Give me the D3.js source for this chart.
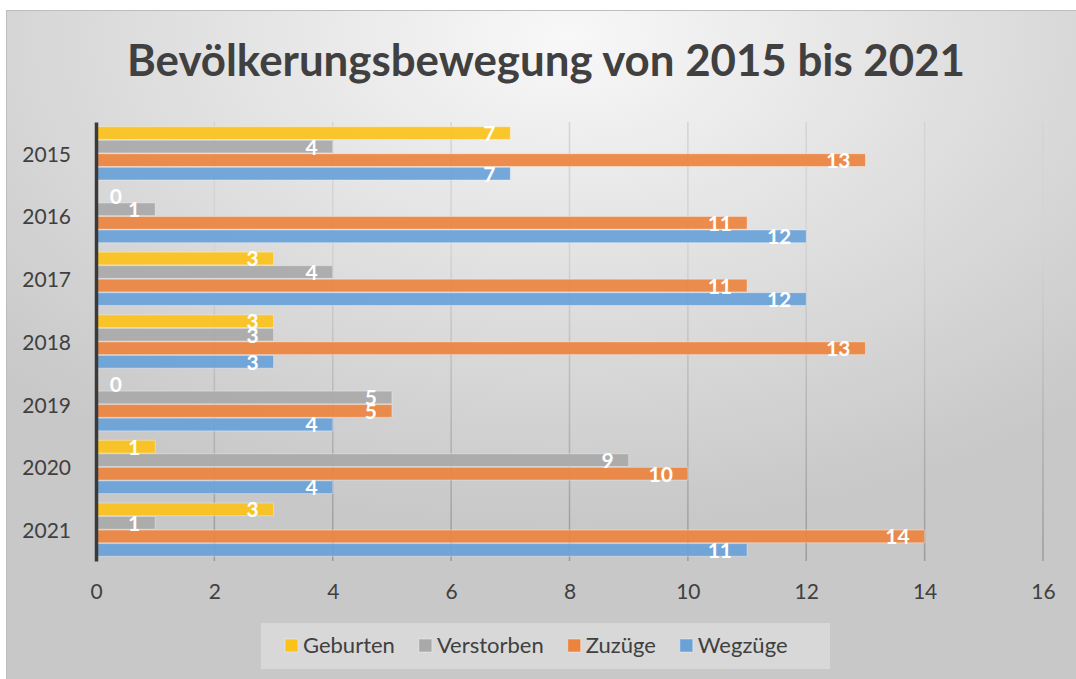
<!DOCTYPE html>
<html>
<head>
<meta charset="utf-8">
<script src="https://cdn.jsdelivr.net/npm/d3@7"></script>
<style>
  html, body { margin: 0; padding: 0; background: #fff; }
  svg { display: block; font-family: Lato, "Open Sans", sans-serif; }
</style>
</head>
<body>
<svg id="chart" width="1076" height="679"></svg>
<script>
const years = ["2015", "2016", "2017", "2018", "2019", "2020", "2021"];
const seriesNames = ["Geburten", "Verstorben", "Zuzüge", "Wegzüge"];
const geburten = [7, 0, 3, 3, 0, 1, 3];
const verstorben = [4, 1, 4, 3, 5, 9, 1];
const zuzuege = [13, 11, 11, 13, 5, 10, 14];
const wegzuege = [7, 12, 12, 3, 4, 4, 11];
const xTicks = [0, 2, 4, 6, 8, 10, 12, 14, 16];
const colors = ["#FBC21A", "#A9A9A9", "#EC8440", "#6AA2D8"];

const values = [geburten, verstorben, zuzuege, wegzuege];
const rows = years.map((y, i) => ({
    year: y,
    items: seriesNames.map((s, j) => ({series: s, value: values[j][i]}))
}));

const svg = d3.select("#chart");
const margin = {top: 122, right: 33, bottom: 118, left: 96};
const width = 1076 - margin.left - margin.right;
const height = 679 - margin.top - margin.bottom;

// background
const defs = svg.append("defs");
const bg = defs.append("radialGradient")
    .attr("id", "bg")
    .attr("cx", "52%").attr("cy", "4%").attr("r", "72%");
bg.append("stop").attr("offset", "0%").attr("stop-color", "#f8f8f8");
bg.append("stop").attr("offset", "100%").attr("stop-color", "#c8c8c8");

const grid = defs.append("linearGradient")
    .attr("id", "gridGrad")
    .attr("gradientUnits", "userSpaceOnUse")
    .attr("x1", 0).attr("y1", margin.top).attr("x2", 0).attr("y2", margin.top + height);
grid.append("stop").attr("offset", "0%").attr("stop-color", "#d4d4d4");
grid.append("stop").attr("offset", "100%").attr("stop-color", "#858585");

svg.append("rect")
    .attr("x", 6.5).attr("y", 10.5)
    .attr("width", 1076).attr("height", 679)
    .attr("fill", "url(#bg)")
    .attr("stroke", "#bdbdbd");

// title
svg.append("text")
    .attr("x", 546).attr("y", 76)
    .attr("text-anchor", "middle")
    .attr("font-size", 44)
    .attr("font-weight", "bold")
    .attr("fill", "#404040")
    .attr("textLength", 838)
    .attr("lengthAdjust", "spacingAndGlyphs")
    .text("Bevölkerungsbewegung von 2015 bis 2021");

const x = d3.scaleLinear().domain([0, 16]).range([0, width]);
const y0 = d3.scaleBand().domain(years).range([0, height])
    .paddingInner(0.15).paddingOuter(0.075);
const y1 = d3.scaleBand().domain(seriesNames).range([0, y0.bandwidth()])
    .paddingInner(0.06);
const color = d3.scaleOrdinal().domain(seriesNames).range(colors);

const container = svg.append("g")
    .attr("transform", `translate(${margin.left}, ${margin.top})`);

// gridlines
container.append("g")
    .selectAll("line")
    .data(xTicks.filter(d => d > 0))
    .join("line")
    .attr("x1", d => x(d)).attr("x2", d => x(d))
    .attr("y1", 0).attr("y2", height)
    .attr("stroke", "url(#gridGrad)")
    .attr("stroke-width", 1.5);

// bars
const groups = container.append("g")
    .selectAll("g")
    .data(rows)
    .join("g")
    .attr("transform", d => `translate(0, ${y0(d.year)})`);

groups.selectAll("rect")
    .data(d => d.items)
    .join("rect")
    .attr("x", 0)
    .attr("y", d => y1(d.series))
    .attr("width", d => x(d.value))
    .attr("height", y1.bandwidth())
    .attr("fill", d => color(d.series))
    .attr("fill-opacity", 0.92)
    .attr("stroke", "#ffffff")
    .attr("stroke-opacity", 0.35)
    .attr("stroke-width", 1);

groups.selectAll("text")
    .data(d => d.items)
    .join("text")
    .attr("x", d => Math.max(x(d.value) - 15, 26))
    .attr("y", d => y1(d.series) + y1.bandwidth() / 2 + 8)
    .attr("text-anchor", "end")
    .attr("font-size", 21)
    .attr("font-weight", "bold")
    .attr("fill", "#ffffff")
    .text(d => d.value);

// axes
const xAxis = container.append("g")
    .attr("transform", `translate(0, ${height})`)
    .call(d3.axisBottom(x).tickValues(xTicks).tickSize(0).tickPadding(23));
xAxis.select(".domain").remove();
xAxis.selectAll("text")
    .attr("font-family", "Lato, sans-serif")
    .attr("font-size", 21)
    .attr("fill", "#404040");

const yAxis = container.append("g")
    .call(d3.axisLeft(y0).tickSize(0).tickPadding(25));
yAxis.select(".domain")
    .attr("stroke", "#3a3a3a")
    .attr("stroke-width", 3.5);
yAxis.selectAll("text")
    .attr("font-family", "Lato, sans-serif")
    .attr("font-size", 21)
    .attr("fill", "#404040")
    .attr("dy", "0.4em");

// legend
const legend = svg.append("g");
legend.append("rect")
    .attr("x", 261).attr("y", 623)
    .attr("width", 569).attr("height", 46)
    .attr("fill", "#ffffff")
    .attr("fill-opacity", 0.3);

let lx = 285;
seriesNames.forEach(name => {
    const item = legend.append("g").attr("transform", `translate(${lx}, 639)`);
    item.append("rect")
        .attr("width", 13).attr("height", 13)
        .attr("fill", color(name))
        .attr("stroke", "#ffffff").attr("stroke-opacity", 0.4);
    const t = item.append("text")
        .attr("x", 18).attr("y", 14)
        .attr("font-size", 22)
        .attr("fill", "#404040")
        .text(name);
    lx += 18 + t.node().getComputedTextLength() + 24;
});
</script>
</body>
</html>
